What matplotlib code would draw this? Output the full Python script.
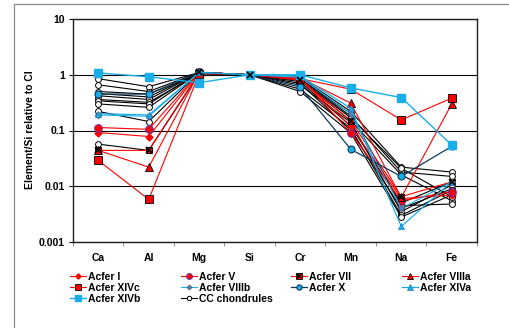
import matplotlib
matplotlib.use("Agg")
import matplotlib.pyplot as plt
from matplotlib.lines import Line2D
from matplotlib.legend_handler import HandlerTuple
from matplotlib.patches import Rectangle
import numpy as np

plt.rcParams['font.family'] = ['Liberation Sans', 'DejaVu Sans']
plt.rcParams['font.weight'] = 'bold'

categories = ["Ca", "Al", "Mg", "Si", "Cr", "Mn", "Na", "Fe"]

acfer_I     = [0.092, 0.078, 1.10, 1.0, 0.85, 0.12, 0.0060, 0.0070]
acfer_V     = [0.113, 0.105, 1.10, 1.0, 0.90, 0.09, 0.0055, 0.0080]
acfer_VII   = [0.044, 0.044, 1.10, 1.0, 0.80, 0.15, 0.0065, 0.0120]
acfer_VIIIa = [0.044, 0.022, 1.10, 1.0, 0.88, 0.31, 0.0063, 0.30]
acfer_XIVc  = [0.029, 0.0058, 1.05, 1.0, 0.85, 0.55, 0.155, 0.38]
acfer_VIIIb = [0.19, 0.18, 1.10, 1.0, 0.90, 0.20, 0.0040, 0.012]
acfer_X     = [0.45, 0.45, 1.10, 1.0, 0.60, 0.046, 0.015, 0.052]
acfer_XIVa  = [0.20, 0.19, 1.10, 1.0, 0.95, 0.25, 0.0019, 0.012]
acfer_XIVb  = [1.08, 0.92, 0.72, 1.0, 1.00, 0.58, 0.39, 0.055]

cc_chondrules = [
    [0.85, 0.61, 1.10, 1.0, 0.90, 0.22, 0.022, 0.018],
    [0.66, 0.50, 1.10, 1.0, 0.85, 0.18, 0.018, 0.015],
    [0.50, 0.45, 1.05, 1.0, 0.80, 0.15, 0.016, 0.0055],
    [0.46, 0.40, 1.10, 1.0, 0.75, 0.12, 0.0050, 0.012],
    [0.42, 0.36, 1.10, 1.0, 0.70, 0.10, 0.0040, 0.0090],
    [0.36, 0.32, 1.05, 1.0, 0.65, 0.14, 0.0035, 0.0105],
    [0.34, 0.30, 1.10, 1.0, 0.55, 0.11, 0.0030, 0.0085],
    [0.22, 0.145, 1.10, 1.0, 0.50, 0.09, 0.0028, 0.0070],
    [0.057, 0.044, 1.05, 1.0, 0.85, 0.20, 0.0045, 0.0048],
    [0.30, 0.26, 1.10, 1.0, 0.80, 0.17, 0.021, 0.0065],
]

RED = '#FF0000'
LBLUE = '#1AAEE8'
DARK = '#0E3B5A'

fig = plt.figure(figsize=(5.10, 3.28), dpi=100)
fig.patches.append(Rectangle((14/510, -0.1), 1.2, 1 - 4/328 + 0.1,
                             transform=fig.transFigure, fill=False,
                             edgecolor='#8c8c8c', linewidth=0.9))
ax = fig.add_axes([73/510, 1 - 242/328, (477 - 73)/510, (242 - 19)/328])

x = np.arange(len(categories))

for i, row in enumerate(cc_chondrules):
    ax.plot(x, row, color='black', lw=0.8, marker='o', ms=4.2,
            mfc='white', mec='black', mew=0.7, zorder=2)

h_I, = ax.plot(x, acfer_I, color=RED, lw=0.8, marker='D', ms=3.5,
               mfc=RED, mec=RED, zorder=3)
h_V, = ax.plot(x, acfer_V, color=RED, lw=0.8, marker='o', ms=5.5,
               mfc=RED, mec='#7030A0', mew=0.8, zorder=3)
h_VII, = ax.plot(x, acfer_VII, color=RED, lw=0.8, marker='s', ms=5,
                 mfc=RED, mec='black', mew=0.6, zorder=3)
h_VIIx, = ax.plot(x, acfer_VII, ls='none', marker='x', ms=4.5,
                  mec='black', mew=1.2, zorder=3.1)
h_VIIIa, = ax.plot(x, acfer_VIIIa, color=RED, lw=0.8, marker='^', ms=6,
                   mfc=RED, mec='black', mew=0.6, zorder=3)
h_XIVc, = ax.plot(x, acfer_XIVc, color=RED, lw=0.8, marker='s', ms=6,
                  mfc=RED, mec='black', mew=0.6, zorder=3)
h_VIIIb, = ax.plot(x, acfer_VIIIb, color=LBLUE, lw=0.8, marker='D', ms=3.5,
                   mfc='#4F81BD', mec='#595959', mew=0.5, zorder=3)
h_X, = ax.plot(x, acfer_X, color=DARK, lw=0.9, marker='o', ms=5,
               mfc=LBLUE, mec=DARK, mew=0.8, zorder=3)
h_XIVa, = ax.plot(x, acfer_XIVa, color=LBLUE, lw=0.9, marker='^', ms=5,
                  mfc=LBLUE, mec='#1F77B4', mew=0.5, zorder=3)
h_XIVb, = ax.plot(x, acfer_XIVb, color=LBLUE, lw=1.0, marker='s', ms=6,
                  mfc=LBLUE, mec=LBLUE, zorder=3)
h_CC = Line2D([], [], color='black', lw=0.8, marker='o', ms=4.2,
              mfc='white', mec='black', mew=0.7)

ax.set_yscale('log')
ax.set_ylim(0.001, 10)
ax.set_xlim(-0.4, len(categories) - 0.6)
ax.set_yticks([0.001, 0.01, 0.1, 1, 10])
ax.set_yticklabels(['0.001', '0.01', '0.1', '1', '10'], fontsize=7.5, fontweight='bold')
ax.yaxis.set_minor_locator(matplotlib.ticker.NullLocator())
ax.grid(axis='y', which='major', color='black', lw=0.8)
ax.set_axisbelow(True)

ax.set_xticks(x)
ax.set_xticklabels(categories, fontsize=7.5, fontweight='bold')
ax.tick_params(axis='x', which='major', length=0, pad=8)
ax.set_xticks(np.arange(len(categories) + 1) - 0.5, minor=True)
ax.tick_params(axis='x', which='minor', length=3, color='#808080', direction='out')
ax.tick_params(axis='y', which='major', length=3, direction='out', pad=3)

for s in ax.spines.values():
    s.set_color('#202020')
    s.set_linewidth(1.0)

fig.text(30/510, 1 - 130/328, 'Element/Si relative to CI', rotation=90,
         ha='center', va='center', fontsize=7.5, fontweight='bold')

columns = [
    ([h_I, h_XIVc, h_XIVb], ['Acfer I', 'Acfer XIVc', 'Acfer XIVb']),
    ([h_V, h_VIIIb, h_CC], ['Acfer V', 'Acfer VIIIb', 'CC chondrules']),
    ([(h_VII, h_VIIx), h_X], ['Acfer VII', 'Acfer X']),
    ([h_VIIIa, h_XIVa], ['Acfer VIIIa', 'Acfer XIVa']),
]
col_x = [70, 181, 291, 402]
for (hs, ls), cx in zip(columns, col_x):
    leg = fig.legend(hs, ls, loc='upper left',
                     bbox_to_anchor=(cx/510, 1 - 272/328), frameon=False,
                     fontsize=7.5, handlelength=1.5, handletextpad=0.2,
                     labelspacing=0.1, borderpad=0, borderaxespad=0,
                     handler_map={tuple: HandlerTuple(ndivide=1, pad=0)},
                     markerscale=0.75)
    for t in leg.get_texts():
        t.set_fontweight('bold')

fig.savefig('out.png', dpi=100)
